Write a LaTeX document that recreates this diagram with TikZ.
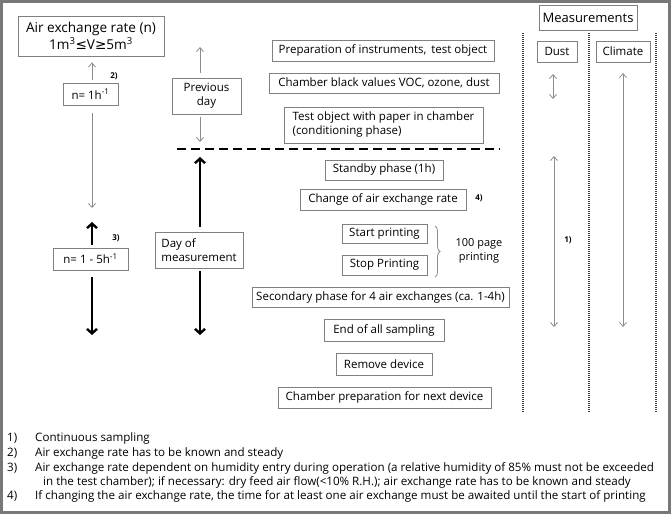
\documentclass[tikz,border=0pt]{standalone}
\usepackage{fontspec}
\setmainfont{Open Sans}
\newfontfamily\symf{DejaVu Sans}
\usetikzlibrary{arrows.meta,decorations.pathreplacing}
\definecolor{boxgray}{RGB}{128,128,128}
\definecolor{arrgray}{RGB}{140,140,140}
\definecolor{framegray}{RGB}{120,120,120}
\definecolor{dotgray}{RGB}{60,60,60}
\begin{document}
\begin{tikzpicture}[x=1pt,y=-1pt,
  box/.style={draw=boxgray,line width=0.8pt,fill=white,inner sep=0pt,minimum height=20pt,font=\fontsize{11.5}{14}\selectfont,align=center},
  lbox/.style={box,align=left},
  garrow/.style={draw=arrgray,line width=0.8pt,-{Straight Barb[length=4pt,width=7pt]}},
  gdarrow/.style={draw=arrgray,line width=0.8pt,{Straight Barb[length=4pt,width=7pt]}-{Straight Barb[length=4pt,width=7pt]}},
  barrow/.style={draw=black,line width=2.4pt,-{Straight Barb[length=4.5pt,width=10pt]}},
  note/.style={font=\fontsize{8}{9}\selectfont\bfseries,inner sep=0pt},
  foot/.style={font=\fontsize{11.6}{13}\selectfont,inner sep=0pt,anchor=west},
  dotline/.style={draw=dotgray,line width=1.3pt,dash pattern=on 1pt off 1pt}
]
\useasboundingbox (0,0) rectangle (671,514);
\draw[draw=framegray,line width=3pt] (1.5,1.5) rectangle (669.5,512.5);

% left column
\node[box,minimum width=146pt,minimum height=40pt,font=\fontsize{13.6}{16.5}\selectfont] (aer) at (91,36)
  {Air exchange rate (n)\\1m\textsuperscript{3}{\symf ≤}V{\symf ≥}5m\textsuperscript{3}};
\node[box,minimum width=55pt,minimum height=22pt] (n1) at (90.5,94) {n= 1h\textsuperscript{-1}};
\node[box,minimum width=75pt,minimum height=22pt] (n15) at (90.5,259) {n= 1 - 5h\textsuperscript{-1}};
\node[note] (l2) at (114,76) {2)};
\node[note] (l3) at (116,238) {3)};
\coordinate (n1top) at (92,83);
\coordinate (n1down) at (92,208);
\coordinate (n15up) at (92,222);
\coordinate (n15down) at (92,335);
\draw[garrow,shorten <=3pt,shorten >=6pt] (n1top) -- (aer.south -| n1top);
\draw[garrow,shorten <=8pt] (n1.south -| n1down) -- (n1down);
\draw[barrow,shorten <=3pt] (n15.north -| n15up) -- (n15up);
\draw[barrow,shorten <=7pt] (n15.south -| n15down) -- (n15down);

% second column
\node[box,minimum width=69pt,minimum height=36pt] (prev) at (206.5,96) {Previous\\day};
\node[lbox,minimum width=88pt,minimum height=36pt] (dom) at (199,250) {Day of\\measurement};
\coordinate (prevup) at (200,47);
\coordinate (prevdown) at (200,142);
\coordinate (domup) at (200,157);
\coordinate (domdown) at (200,335);
\draw[garrow,shorten <=5pt] (prev.north -| prevup) -- (prevup);
\draw[garrow,shorten <=3pt] (prev.south -| prevdown) -- (prevdown);
\draw[barrow,shorten <=5pt] (dom.north -| domup) -- (domup);
\draw[barrow,shorten <=3pt] (dom.south -| domdown) -- (domdown);

% dashed separator
\coordinate (dashL) at (177,149);
\coordinate (dashR) at (500,149);
\draw[line width=2.4pt,dash pattern=on 9pt off 5pt] (dashL) -- (dashR);

% middle column
\node[box,minimum width=222pt,minimum height=21pt] (prep) at (383,50.5) {Preparation of instruments,\, test object};
\node[box,minimum width=230pt] (black) at (384,83) {Chamber black values VOC, ozone, dust};
\node[lbox,minimum width=199pt,minimum height=36pt] (testobj) at (383.5,125) {Test object with paper in chamber\\(conditioning phase)};
\node[box,minimum width=118pt] (standby) at (384,170) {Standby phase (1h)};
\node[box,minimum width=166pt,minimum height=21pt] (change) at (383,199.5) {Change of air exchange rate};
\node[note] (l4) at (479,198) {4)};
\node[box,minimum width=85pt,minimum height=19pt] (start) at (384.5,233.5) {Start printing};
\node[box,minimum width=85pt] (stop) at (384.5,265) {Stop Printing};
\coordinate (braceT) at (435,226);
\coordinate (braceB) at (435,277);
\draw[draw=arrgray,line width=0.8pt,decorate,decoration={brace,amplitude=5pt}] (braceT) -- (braceB);
\node[font=\fontsize{11}{13.5}\selectfont,align=center,inner sep=0pt] (pages) at (479,251) {100 page\\printing};
\node[box,minimum width=257pt] (secondary) at (380.5,297) {Secondary phase for 4 air exchanges (ca. 1-4h)};
\node[box,minimum width=120pt,minimum height=22pt] (endall) at (384,330) {End of all sampling};
\node[box,minimum width=96pt,minimum height=22pt] (remove) at (384,364) {Remove device};
\node[box,minimum width=213pt,minimum height=21pt] (chprep) at (384.5,397.5) {Chamber preparation for next device};

% measurements
\node[box,minimum width=98pt,minimum height=25pt,font=\fontsize{13}{15}\selectfont] (meas) at (588,17.5) {Measurements};
\node[box,minimum width=40pt,minimum height=21pt] (dust) at (557,51.5) {Dust};
\node[box,minimum width=54pt,minimum height=21pt] (climate) at (623,51.5) {Climate};
\coordinate (d1t) at (523,33); \coordinate (d1b) at (523,413);
\coordinate (d2t) at (589,33); \coordinate (d2b) at (589,413);
\coordinate (d3t) at (656,33); \coordinate (d3b) at (656,413);
\draw[dotline] (d1t) -- (d1b);
\draw[dotline] (d2t) -- (d2b);
\draw[dotline] (d3t) -- (d3b);
\coordinate (dsT) at (553,74); \coordinate (dsB) at (553,99);
\coordinate (dlT) at (554,156); \coordinate (dlB) at (554,327);
\coordinate (clT) at (623,73); \coordinate (clB) at (623,327);
\draw[gdarrow] (dsT) -- (dsB);
\draw[gdarrow] (dlT) -- (dlB);
\draw[gdarrow] (clT) -- (clB);
\node[note] (l1) at (568,240) {1)};

% footnotes
\node[foot] (f1n) at (7,438) {1)};
\node[foot] (f1) at (35,438) {Continuous sampling};
\node[foot] (f2n) at (7,453) {2)};
\node[foot] (f2) at (35,453) {Air exchange rate has to be known and steady};
\node[foot] (f3n) at (7,468) {3)};
\node[foot] (f3) at (35,468) {Air exchange rate dependent on humidity entry during operation (a relative humidity of 85\% must not be exceeded};
\node[foot] (f3b) at (43,482) {in the test chamber); if necessary: dry feed air flow(<10\% R.H.); air exchange rate has to be known and steady};
\node[foot] (f4n) at (7,496) {4)};
\node[foot] (f4) at (35,496) {If changing the air exchange rate, the time for at least one air exchange must be awaited until the start of printing};
\end{tikzpicture}
\end{document}
